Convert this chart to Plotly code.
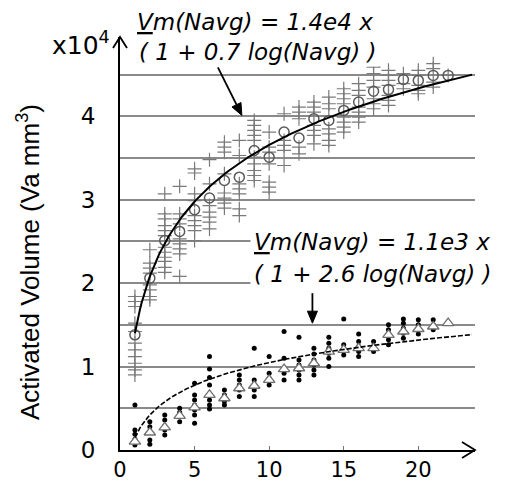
import numpy as np
import plotly.graph_objects as go

# ---------------- data (values in units of 1e4 Va mm^3) ----------------
navg = list(range(1, 23))

upper_plus = [
    [1.84, 1.78, 1.72, 1.52, 1.42, 1.28, 1.20, 1.12, 1.04, 0.96, 0.90],
    [2.40, 2.24, 2.18, 2.12, 1.98, 1.92, 1.84, 1.80],
    [3.07, 2.83, 2.77, 2.69, 2.63, 2.57, 2.43, 2.37, 2.31, 2.26, 2.19, 2.13],
    [3.16, 2.83, 2.77, 2.71, 2.53, 2.47, 2.41, 2.35, 2.08],
    [3.37, 3.32, 3.07, 2.99, 2.81, 2.75, 2.69, 2.63, 2.51],
    [3.48, 3.19, 2.93, 2.85, 2.79, 2.73, 2.65],
    [3.69, 3.63, 3.57, 3.31, 3.08, 3.02, 2.96, 2.90],
    [3.71, 3.53, 3.19, 3.13, 3.07, 2.89, 2.81],
    [3.95, 3.89, 3.83, 3.77, 3.71, 3.51, 3.43, 3.35, 3.29, 3.23],
    [3.81, 3.63, 3.57, 3.43, 3.21, 3.15, 3.09],
    [4.03, 3.71, 3.65, 3.59, 3.41],
    [4.11, 4.05, 3.97, 3.63, 3.55],
    [4.17, 4.11, 4.05, 3.89, 3.83, 3.77, 3.67],
    [4.23, 4.15, 4.09, 3.85, 3.79, 3.71, 3.65],
    [4.33, 4.27, 4.21, 4.15, 3.99, 3.93, 3.87, 3.81],
    [4.39, 4.31, 4.25, 4.11, 4.05, 3.99, 3.93],
    [4.59, 4.51, 4.43, 4.35, 4.21, 4.15, 4.09],
    [4.55, 4.49, 4.43, 4.37, 4.25, 4.19, 4.13],
    [4.51, 4.39, 4.33],
    [4.55, 4.49, 4.37, 4.31, 4.27],
    [4.63, 4.57, 4.41, 4.35],
    [4.49],
]
upper_mean = [1.38, 2.06, 2.51, 2.62, 2.88, 3.02, 3.23, 3.27, 3.59, 3.51, 3.81,
              3.74, 3.97, 3.95, 4.07, 4.17, 4.30, 4.32, 4.44, 4.43, 4.49, 4.49]

lower_dots = [
    [0.54, 0.24, 0.19, 0.13, 0.10, 0.06],
    [0.34, 0.28, 0.12, 0.07],
    [0.42, 0.36, 0.29, 0.24, 0.18],
    [0.50, 0.45, 0.34],
    [0.80, 0.66, 0.60, 0.54, 0.48, 0.42, 0.32],
    [1.12, 0.97, 0.87, 0.78, 0.60, 0.54, 0.49],
    [0.72, 0.66, 0.58, 0.54],
    [0.90, 0.84, 0.78, 0.72, 0.64],
    [1.22, 0.84, 0.78, 0.72, 0.64],
    [1.12, 0.92, 0.86, 0.78],
    [1.42, 1.10, 0.92, 0.84],
    [1.35, 1.08, 1.02, 0.96, 0.90, 0.84],
    [1.22, 1.15, 1.08, 1.02, 0.96, 0.90],
    [1.35, 1.28, 1.22, 1.16, 1.10, 1.00],
    [1.57, 1.26, 1.20, 1.14],
    [1.39, 1.30, 1.24, 1.18, 1.12],
    [1.30, 1.24, 1.18],
    [1.50, 1.44, 1.38, 1.32, 1.26],
    [1.57, 1.52, 1.46, 1.40, 1.34],
    [1.56, 1.50, 1.44, 1.39],
    [1.56, 1.50, 1.44],
    [],
]
lower_mean = [0.10, 0.21, 0.27, 0.41, 0.51, 0.66, 0.62, 0.74, 0.77, 0.84, 0.97,
              0.98, 1.04, 1.18, 1.20, 1.22, 1.22, 1.38, 1.42, 1.45, 1.48, 1.52]

# fitted curves Vm = a * (1 + b * ln(Navg))   (a in 1e4 units)
upper_fit = (1.4, 0.7)
lower_fit = (0.15, 2.6)
fit_range = (1.0, 23.6)

x_ticks = [0, 5, 10, 15, 20]
y_ticks = [0, 1, 2, 3, 4]
y_minor = [0.5, 1.5, 2.5, 3.5, 4.5]

# ---------------- helpers ----------------
def flatten(groups):
    xs, ys = [], []
    for n, vals in zip(navg, groups):
        for v in vals:
            xs.append(n)
            ys.append(v)
    return xs, ys

ux, uy = flatten(upper_plus)
lx, ly = flatten(lower_dots)
xf = np.linspace(fit_range[0], fit_range[1], 200)
yu = upper_fit[0] * (1 + upper_fit[1] * np.log(xf))
yl = lower_fit[0] * (1 + lower_fit[1] * np.log(xf))

X_MAX, Y_MAX = 23.8, 4.95
# page has an 8px body margin: size the figure so it fills the window exactly
W, H = 510, 475
L, T, B, R = 112, 29, 33, 43
PW, PH = W - L - R, H - T - B
PAGE_LEFT, PAGE_BOTTOM = 120, 450   # page pixel position of the plot origin

def px(xp):
    return (xp - PAGE_LEFT) / PW

def py(yp):
    return (PAGE_BOTTOM - yp) / PH

fig = go.Figure()
fig.add_trace(go.Scatter(x=ux, y=uy, mode="markers",
                         marker=dict(symbol="cross-thin", size=10, color="#7a7a7a",
                                     line=dict(color="#7a7a7a", width=1.2)),
                         showlegend=False))
fig.add_trace(go.Scatter(x=navg, y=upper_mean, mode="markers",
                         marker=dict(symbol="circle-open", size=10, color="#5a5a5a",
                                     line=dict(color="#5a5a5a", width=1.5)),
                         showlegend=False))
fig.add_trace(go.Scatter(x=xf, y=yu, mode="lines",
                         line=dict(color="black", width=2), showlegend=False))
fig.add_trace(go.Scatter(x=lx, y=ly, mode="markers",
                         marker=dict(symbol="circle", size=5, color="black"),
                         showlegend=False))
fig.add_trace(go.Scatter(x=navg, y=lower_mean, mode="markers",
                         marker=dict(symbol="triangle-up", size=10, color="white",
                                     line=dict(color="#707070", width=1.3)),
                         showlegend=False))
fig.add_trace(go.Scatter(x=xf, y=yl, mode="lines",
                         line=dict(color="black", width=1.6, dash="5px,2px"),
                         showlegend=False))

tick_font = dict(family="DejaVu Sans", size=23, color="black")
xtick_font = dict(family="DejaVu Sans", size=21, color="black")
ann_font = dict(family="DejaVu Sans", size=23, color="black", style="italic")

annotations = [
    # exponent label
    dict(x=px(112), y=py(44), xref="paper", yref="paper", xanchor="right",
         yanchor="middle", showarrow=False, text="x10<sup>4</sup>",
         font=dict(family="DejaVu Sans", size=25, color="black")),
    # y axis title
    dict(x=px(28), y=py(262), xref="paper", yref="paper", xanchor="center",
         yanchor="middle", showarrow=False, textangle=-90,
         text="Activated Volume (Va mm<sup>3</sup>)",
         font=dict(family="Liberation Sans", size=26, color="black")),
    # upper fit formula
    dict(x=px(135), y=py(22), xref="paper", yref="paper", xanchor="left",
         yanchor="middle", showarrow=False, text="<u>V</u>m(Navg) = 1.4e4 x",
         font=ann_font, bgcolor="white", borderpad=1),
    dict(x=px(137), y=py(52), xref="paper", yref="paper", xanchor="left",
         yanchor="middle", showarrow=False, text="( 1 + 0.7 log(Navg) )",
         font=ann_font, bgcolor="white", borderpad=1),
    # lower fit formula
    dict(x=px(250), y=py(242), xref="paper", yref="paper", xanchor="left",
         yanchor="middle", showarrow=False, text="<u>V</u>m(Navg) = 1.1e3 x",
         font=ann_font, bgcolor="white", borderpad=3),
    dict(x=px(250), y=py(274), xref="paper", yref="paper", xanchor="left",
         yanchor="middle", showarrow=False, text="( 1 + 2.6 log(Navg) )",
         font=ann_font, bgcolor="white", borderpad=3),
]

# axis arrowheads and pointer arrows (pixel-sized decorations)
deco = dict(xsizemode="pixel", ysizemode="pixel", xref="x", yref="y")
paper_deco = dict(xsizemode="pixel", ysizemode="pixel", xref="paper", yref="paper")
shapes = [
    dict(type="path", xanchor=0, yanchor=1, path="M-7,-11 L0,0 L7,-11",
         line=dict(color="black", width=1.8), **paper_deco),
    dict(type="path", xanchor=1, yanchor=0, path="M-13,8 L0,0 L-13,-8",
         line=dict(color="black", width=1.8), **paper_deco),
    dict(type="path", xanchor=8.17, yanchor=4.01, path="M-24,48 L-4,8",
         line=dict(color="black", width=1.8), **deco),
    dict(type="path", xanchor=8.17, yanchor=4.01,
         path="M0,0 L-0.9,12.9 L-9.9,8.5 Z", fillcolor="black",
         line=dict(color="black", width=1), **deco),
    dict(type="path", xanchor=12.9, yanchor=1.52, path="M0,30 L0,8",
         line=dict(color="black", width=1.8), **deco),
    dict(type="path", xanchor=12.9, yanchor=1.52, path="M0,0 L-5,12 L5,12 Z",
         fillcolor="black", line=dict(color="black", width=1), **deco),
]

fig.update_layout(
    width=W, height=H, autosize=False,
    margin=dict(l=L, r=R, t=T, b=B),
    paper_bgcolor="white", plot_bgcolor="white",
    annotations=annotations, shapes=shapes,
    xaxis=dict(range=[0, X_MAX], tickvals=x_ticks, ticks="inside", ticklen=4,
               tickcolor="#777777", tickwidth=1.2, showgrid=False, zeroline=False,
               showline=True, linecolor="black", linewidth=1.8, automargin=False,
               tickfont=xtick_font, ticklabelstandoff=0),
    yaxis=dict(range=[0, Y_MAX], tickvals=y_ticks, ticks="", showgrid=True,
               gridcolor="#8a8a8a", gridwidth=1.5, zeroline=False, automargin=False,
               showline=True, linecolor="black", linewidth=1.8,
               tickfont=tick_font, ticklabelstandoff=18,
               minor=dict(tickvals=y_minor, showgrid=True, gridcolor="#8a8a8a",
                          gridwidth=1.5)),
)

fig.write_html("out.html")
